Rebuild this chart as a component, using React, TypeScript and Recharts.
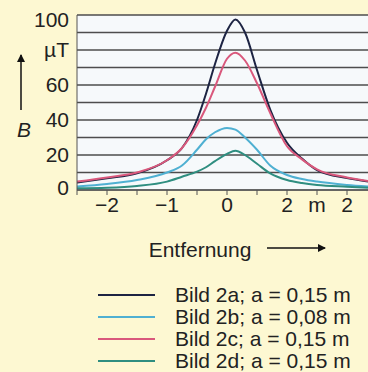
import React from "react";
import { LineChart, Line, XAxis, YAxis, CartesianGrid, Legend } from "recharts";

// distance along the line (m)
const distance = [-2.5, -2, -1.5, -1, -0.75, -0.5, -0.35, -0.2, 0, 0.14, 0.3, 0.5, 0.72, 1, 1.25, 1.5, 2, 2.35];
// field strength B in µT
const bild2a = [4.2, 6.7, 9.5, 17, 24, 40, 55, 72, 91, 97.5, 90, 68.6, 46, 27, 18, 11.4, 6.8, 4.8];
const bild2b = [2, 3.4, 5.7, 10, 14, 23, 29, 33, 35.5, 34.5, 30, 23, 14, 8.6, 6.3, 4.8, 2.9, 2];
const bild2c = [4.8, 7.2, 10, 17, 24, 37, 47, 59, 75, 78.5, 74, 61, 44, 25, 17.5, 11.8, 7.2, 5.2];
const bild2d = [1, 1.3, 2.3, 4.8, 7.6, 10.5, 13, 16.5, 20.6, 22.5, 20, 15, 9.5, 5.7, 4, 2.9, 1.9, 1.3];

const yTicks = [0, 10, 20, 30, 40, 50, 60, 70, 80, 90, 100];
const yLabels: Record<number, string> = { 0: "0", 20: "20", 40: "40", 60: "60", 80: "µT", 100: "100" };
const xTicks = [-2.5, -2, -1.5, -1, -0.5, 0, 0.5, 1, 1.5, 2];
const xLabels: Record<string, string> = { "-2": "−2", "-1": "−1", "0": "0", "1": "2", "1.5": "m", "2": "2" };

const series = [
  { key: "a", name: "Bild 2a; a = 0,15 m", color: "#1d2443" },
  { key: "b", name: "Bild 2b; a = 0,08 m", color: "#4fb0d2" },
  { key: "c", name: "Bild 2c; a = 0,15 m", color: "#d9587c" },
  { key: "d", name: "Bild 2d; a = 0,15 m", color: "#2f8e80" },
];

const data = distance.map((x, i) => ({ x, a: bild2a[i], b: bild2b[i], c: bild2c[i], d: bild2d[i] }));

const font = "'Liberation Sans', Arial, sans-serif";

function YTick({ x, y, payload }: any) {
  const label = yLabels[payload.value];
  if (!label) return null;
  // top and bottom labels sit a little inside the frame
  const shift = payload.value === 100 ? 5 : payload.value === 0 ? -2 : 0;
  return (
    <text x={x} y={y + shift} dy="0.355em" textAnchor="end" fontFamily={font} fontSize={21} fill="#222">
      {label}
    </text>
  );
}

function LegendBox({ payload }: any) {
  return (
    <div style={{ fontFamily: font, fontSize: 21, color: "#222" }}>
      {(payload || []).map((p: any) => (
        <div key={p.value} style={{ display: "flex", alignItems: "center", height: 22 }}>
          <svg width={57} height={4} style={{ marginRight: 20 }}>
            <line x1={0} y1={2} x2={57} y2={2} stroke={p.color} strokeWidth={2} />
          </svg>
          <span style={{ lineHeight: "22px", whiteSpace: "nowrap" }}>{p.value}</span>
        </div>
      ))}
    </div>
  );
}

export default function App() {
  return (
    <div style={{ position: "fixed", left: 0, top: 0, width: 368, height: 372, background: "#fdf8d2", overflow: "hidden" }}>
      <LineChart width={368} height={372} data={data} margin={{ top: 15, right: 0, left: 0, bottom: 152 }}>
        <CartesianGrid vertical={false} stroke="#4d4d4d" strokeWidth={1.4} fill="#f6f9fb" />
        <XAxis
          dataKey="x"
          type="number"
          domain={[-2.5, 2.35]}
          ticks={xTicks}
          allowDataOverflow
          height={30}
          tickSize={5}
          stroke="#555"
          tick={{ fill: "#222", fontSize: 21, fontFamily: font }}
          tickFormatter={(v: number) => xLabels[String(v)] ?? ""}
        />
        <YAxis
          type="number"
          domain={[0, 100]}
          ticks={yTicks}
          width={77}
          tickLine={false}
          stroke="#555"
          interval={0}
          tick={<YTick />}
        />
        {series.map((s) => (
          <Line
            key={s.key}
            type="monotone"
            dataKey={s.key}
            name={s.name}
            stroke={s.color}
            strokeWidth={2}
            dot={false}
            isAnimationActive={false}
          />
        ))}
        <Legend
          layout="horizontal"
          align="center"
          verticalAlign="middle"
          content={<LegendBox />}
          wrapperStyle={{ top: 284, left: 98, width: 270 }}
        />
      </LineChart>
      <svg width={368} height={372} style={{ position: "absolute", left: 0, top: 0, pointerEvents: "none" }}>
        <defs>
          <marker id="arr" markerWidth="8" markerHeight="8" refX="7" refY="4" orient="auto" markerUnits="userSpaceOnUse">
            <path d="M0,0 L8,4 L0,8 z" fill="#111" />
          </marker>
        </defs>
        <line x1={21} y1={110} x2={21} y2={55} stroke="#111" strokeWidth={1.5} markerEnd="url(#arr)" />
        <text x={24} y={137} textAnchor="middle" fontFamily={font} fontSize={21} fontStyle="italic" fill="#222">B</text>
        <text x={200} y={257} textAnchor="middle" fontFamily={font} fontSize={21} fill="#222">Entfernung</text>
        <line x1={267} y1={248} x2={325} y2={248} stroke="#111" strokeWidth={1.5} markerEnd="url(#arr)" />
      </svg>
    </div>
  );
}
